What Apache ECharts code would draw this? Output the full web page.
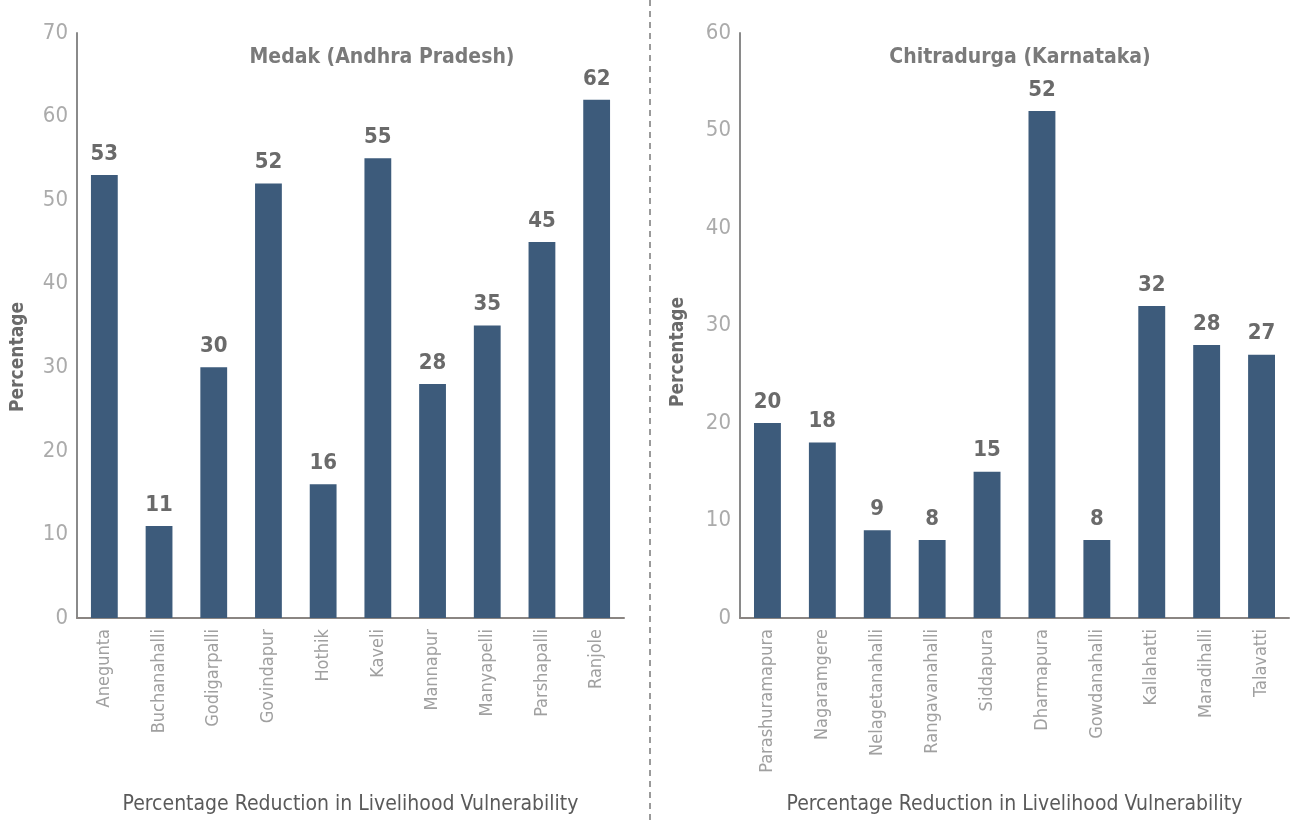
<!DOCTYPE html>
<html><head><meta charset="utf-8">
<script src="https://cdn.jsdelivr.net/npm/echarts@6/dist/echarts.min.js"></script>
<style>html,body{margin:0;padding:0;background:#fff}#c{width:1291px;height:820px}</style>
</head><body><div id="c"></div>
<script>
const leftTitle = "Medak (Andhra Pradesh)";
const rightTitle = "Chitradurga (Karnataka)";
const leftCategories = ["Anegunta","Buchanahalli","Godigarpalli","Govindapur","Hothik","Kaveli","Mannapur","Manyapelli","Parshapalli","Ranjole"];
const leftValues = [53, 11, 30, 52, 16, 55, 28, 35, 45, 62];
const rightCategories = ["Parashuramapura","Nagaramgere","Nelagetanahalli","Rangavanahalli","Siddapura","Dharmapura","Gowdanahalli","Kallahatti","Maradihalli","Talavatti"];
const rightValues = [20, 18, 9, 8, 15, 52, 8, 32, 28, 27];
const xName = "Percentage Reduction in Livelihood Vulnerability";
const yName = "Percentage";

const FONT = "'Liberation Sans Narrow','DejaVu Sans Condensed','Roboto',sans-serif";
const BAR = '#3d5b7b';
const chart = echarts.init(document.getElementById('c'));

function xAxis(idx, cats){
  return {type:'category', gridIndex:idx, data:cats,
    axisLine:{lineStyle:{color:'#8a8582', width:2}},
    axisTick:{show:false},
    axisLabel:{rotate:90, margin:11, color:'#a0a0a0', fontSize:18, fontFamily:FONT},
    name:xName, nameLocation:'middle', nameGap:176,
    nameTextStyle:{color:'#5a5a5a', fontSize:21, fontFamily:FONT}};
}
function yAxis(idx, max){
  return {type:'value', gridIndex:idx, min:0, max:max, interval:10,
    splitLine:{show:false},
    axisLine:{show:true, lineStyle:{color:'#8a8a8a', width:2}},
    axisTick:{show:false},
    axisLabel:{margin:9, color:'#ababab', fontSize:22, fontFamily:FONT}};
}
function series(idx, vals){
  return {type:'bar', xAxisIndex:idx, yAxisIndex:idx, data:vals, barWidth:'49%',
    itemStyle:{color:BAR},
    label:{show:true, position:'top', distance:10, color:'#6a6a6a', fontSize:22, fontWeight:'bold', fontFamily:FONT}};
}

chart.setOption({
  animation:false,
  title:[
    {text:leftTitle, left:377, top:42, textAlign:'center', textStyle:{color:'#7a7a7a', fontSize:21, fontWeight:'bold', fontFamily:FONT}},
    {text:rightTitle, left:1015, top:42, textAlign:'center', textStyle:{color:'#7a7a7a', fontSize:21, fontWeight:'bold', fontFamily:FONT}}
  ],
  grid:[
    {left:77, right:667, top:33, bottom:201},
    {left:740, right:2, top:33, bottom:201}
  ],
  xAxis:[xAxis(0,leftCategories), xAxis(1,rightCategories)],
  yAxis:[yAxis(0,70), yAxis(1,60)],
  series:[series(0,leftValues), series(1,rightValues)],
  graphic:[
    {type:'line', shape:{x1:650,y1:0,x2:650,y2:820}, style:{stroke:'#9a9a9a', lineWidth:2, lineDash:[6,5]}},
    {type:'text', x:18, y:357, rotation:Math.PI/2, style:{text:yName, fill:'#6a6a6a', fontSize:19, fontWeight:'bold', fontFamily:FONT, textAlign:'center', textVerticalAlign:'middle'}},
    {type:'text', x:678, y:352, rotation:Math.PI/2, style:{text:yName, fill:'#6a6a6a', fontSize:19, fontWeight:'bold', fontFamily:FONT, textAlign:'center', textVerticalAlign:'middle'}}
  ]
});
</script></body></html>
